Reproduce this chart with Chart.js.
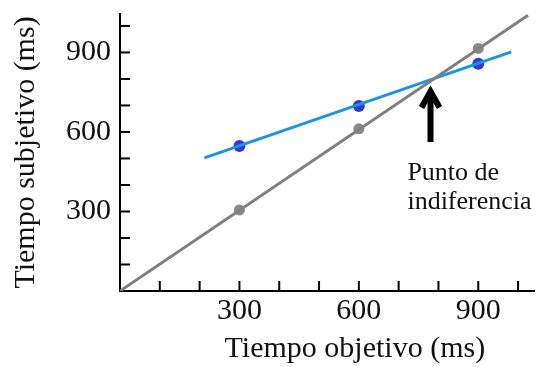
<!DOCTYPE html>
<html>
<head>
<meta charset="utf-8">
<script src="https://cdn.jsdelivr.net/npm/chart.js@4"></script>
<style>
  html, body { margin: 0; padding: 0; background: #fff; }
  #wrap { width: 540px; height: 367px; }
</style>
</head>
<body>
<div id="wrap"><canvas id="grafico"></canvas></div>
<script>
// valores
const objetivo = [300, 600, 900];
const subjetivoGris = [306, 612, 915];
const subjetivoAzul = [547, 698, 857];
// extremos de las rectas
const tramoGrisX = [0, 1025];
const tramoGrisY = [0, 1040];
const tramoAzulX = [212, 983];
const tramoAzulY = [502, 902];
const marcasEje = [0, 100, 200, 300, 400, 500, 600, 700, 800, 900, 1000];
const etiquetas = [300, 600, 900];
const flechaX = 780;
const flechaY = [768, 562];
const nota = ['Punto de', 'indiferencia'];
const notaPos = { x: 722, y: [419, 310] };
const tituloX = 'Tiempo objetivo (ms)';
const tituloXCentro = 590;

const serif = '"Liberation Serif", "Times New Roman", serif';

const pares = (xs, ys) => xs.map((x, i) => ({ x: x, y: ys[i] }));

// marcas hacia dentro, flecha, texto y titulo del eje x
const extras = {
    id: 'extras',
    afterDraw(chart) {
        const { ctx, scales: { x, y } } = chart;
        ctx.save();
        ctx.strokeStyle = '#000';
        ctx.lineWidth = 2;
        marcasEje.forEach(v => {
            if (v === 0) return;
            const px = x.getPixelForValue(v);
            ctx.beginPath();
            ctx.moveTo(px, y.bottom);
            ctx.lineTo(px, y.bottom - 10);
            ctx.stroke();
            const py = y.getPixelForValue(v);
            ctx.beginPath();
            ctx.moveTo(x.left, py);
            ctx.lineTo(x.left + 10, py);
            ctx.stroke();
        });

        const ax = x.getPixelForValue(flechaX);
        const a0 = y.getPixelForValue(flechaY[0]);
        const a1 = y.getPixelForValue(flechaY[1]);
        ctx.lineWidth = 6;
        ctx.lineJoin = 'miter';
        ctx.beginPath();
        ctx.moveTo(ax, a0 + 4);
        ctx.lineTo(ax, a1);
        ctx.stroke();
        ctx.beginPath();
        ctx.moveTo(ax - 9, a0 + 20);
        ctx.lineTo(ax, a0 + 4);
        ctx.lineTo(ax + 9, a0 + 20);
        ctx.stroke();

        ctx.fillStyle = '#111';
        ctx.font = '26px ' + serif;
        ctx.textAlign = 'left';
        ctx.textBaseline = 'alphabetic';
        nota.forEach((t, i) => {
            ctx.fillText(t, x.getPixelForValue(notaPos.x), y.getPixelForValue(notaPos.y[i]));
        });

        ctx.font = '30px ' + serif;
        ctx.textAlign = 'center';
        ctx.fillText(tituloX, x.getPixelForValue(tituloXCentro), chart.height - 10);
        ctx.restore();
    }
};

const renderGrafico = () => {
    const ctx = document.getElementById('grafico').getContext('2d');
    new Chart(ctx, {
        type: 'scatter',
        data: {
            datasets: [
                {
                    type: 'line',
                    data: pares(tramoGrisX, tramoGrisY),
                    borderColor: '#808080',
                    borderWidth: 3,
                    pointRadius: 0
                },
                {
                    type: 'line',
                    data: pares(tramoAzulX, tramoAzulY),
                    borderColor: '#1a95e4',
                    borderWidth: 3,
                    pointRadius: 0
                },
                {
                    data: pares(objetivo, subjetivoGris),
                    backgroundColor: '#8a8a8a',
                    borderWidth: 0,
                    pointRadius: 5.5
                },
                {
                    data: pares(objetivo, subjetivoAzul),
                    backgroundColor: '#3636d0',
                    borderWidth: 0,
                    pointRadius: 6
                }
            ]
        },
        options: {
            responsive: true,
            maintainAspectRatio: false,
            animation: false,
            layout: { padding: { top: 14, right: 5, left: 0, bottom: 0 } },
            plugins: { legend: { display: false }, tooltip: { enabled: false } },
            scales: {
                x: {
                    type: 'linear',
                    min: 0,
                    max: 1040,
                    afterFit: s => { s.height = 76; s.paddingLeft = 0; s.paddingRight = 0; },
                    afterBuildTicks: s => { s.ticks = etiquetas.map(v => ({ value: v })); },
                    grid: { display: false, drawTicks: false },
                    border: { display: true, color: '#000', width: 2 },
                    ticks: { color: '#111', font: { family: serif, size: 30 }, padding: 2 }
                },
                y: {
                    type: 'linear',
                    min: 0,
                    max: 1045,
                    afterFit: s => { s.width = 120; s.paddingTop = 0; s.paddingBottom = 0; },
                    afterBuildTicks: s => { s.ticks = etiquetas.map(v => ({ value: v })); },
                    grid: { display: false, drawTicks: false },
                    border: { display: true, color: '#000', width: 2 },
                    ticks: { color: '#111', font: { family: serif, size: 30 }, padding: 9 },
                    title: {
                        display: true,
                        text: 'Tiempo subjetivo (ms)',
                        color: '#111',
                        font: { family: serif, size: 30 },
                        padding: { top: 8, bottom: 0 }
                    }
                }
            }
        },
        plugins: [extras]
    });
};

document.addEventListener('DOMContentLoaded', renderGrafico);
</script>
</body>
</html>
